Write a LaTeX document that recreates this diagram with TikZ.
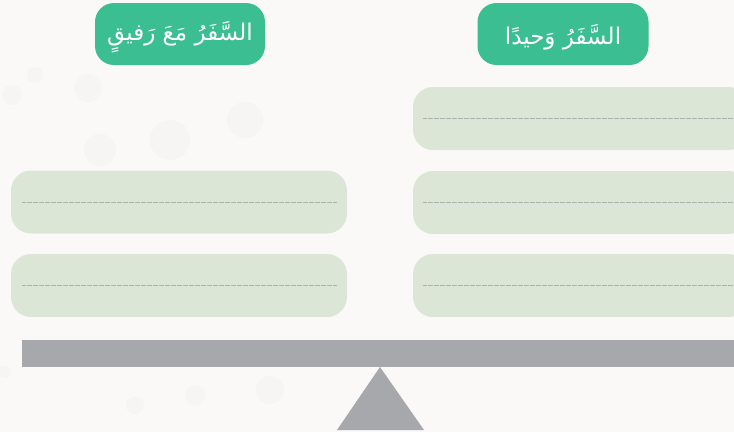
\documentclass[tikz,border=0pt]{standalone}
\usepackage{fontspec}
\newfontfamily\arabicfont[Script=Arabic]{DejaVu Sans}
\TeXXeTstate=1
\definecolor{bgc}{HTML}{FAF9F8}
\definecolor{bgdot}{HTML}{F6F5F3}
\definecolor{titlegreen}{HTML}{3BBE91}
\definecolor{boxgreen}{HTML}{DCE6D6}
\definecolor{dotgray}{HTML}{AEB0AC}
\definecolor{beamgray}{HTML}{A7A8AB}
\tikzset{
  titlebox/.style={fill=titlegreen, rounded corners=19pt, minimum width=170pt, minimum height=62pt, inner sep=0pt, text=white, font=\arabicfont\fontsize{23}{27}\selectfont},
  answerbox/.style={fill=boxgreen, rounded corners=20pt, minimum height=63pt, inner sep=0pt},
  dotline/.style={draw=dotgray, line width=0.6pt, dash pattern=on 0.7pt off 0.5pt},
  beam/.style={fill=beamgray, inner sep=0pt, minimum height=27pt},
  bgcircle/.style={fill=bgdot}
}
\begin{document}
\begin{tikzpicture}[x=1pt,y=-1pt]
\useasboundingbox (0,0) rectangle (734,432);
\fill[bgc] (0,0) rectangle (734,432);
% faint background circles
\fill[bgcircle] (12,95) circle (10);
\fill[bgcircle] (88,88) circle (14);
\fill[bgcircle] (100,150) circle (16);
\fill[bgcircle] (170,140) circle (20);
\fill[bgcircle] (245,120) circle (18);
\fill[bgcircle] (35,75) circle (8);
\fill[bgcircle] (5,372) circle (6);
\fill[bgcircle] (195,395) circle (10);
\fill[bgcircle] (270,390) circle (14);
\fill[bgcircle] (135,405) circle (9);
% titles
\node[titlebox] (t1) at (180,34) {};
\node[titlebox, minimum width=171pt] (t2) at (563,34) {};
\node[text=white, font=\arabicfont\fontsize{23}{27}\selectfont, inner sep=0pt] (t1text) at ([yshift=-3pt]t1.center) {\beginR السَّفَرُ مَعَ رَفيقٍ\endR};
\node[text=white, font=\arabicfont\fontsize{23}{27}\selectfont, inner sep=0pt] (t2text) at ([yshift=-3pt]t2.center) {\beginR السَّفَرُ وَحيدًا\endR};
% right boxes
\node[answerbox, minimum width=335pt] (r1) at (580.5,118.5) {};
\node[answerbox, minimum width=335pt] (r2) at (580.5,202.5) {};
\node[answerbox, minimum width=335pt] (r3) at (580.5,285.5) {};
% left boxes
\node[answerbox, minimum width=336pt] (l1) at (179,202) {};
\node[answerbox, minimum width=336pt] (l2) at (179,285.5) {};
% dotted lines
\foreach \b in {r1,r2,r3} {
  \draw[dotline] ([xshift=10pt]\b.west) -- ([xshift=-10pt]\b.east);
}
\foreach \b in {l1,l2} {
  \draw[dotline] ([xshift=11pt]\b.west) -- ([xshift=-10pt]\b.east);
}
% seesaw
\node[beam, minimum width=730pt] (beam) at (387,353.5) {};
\coordinate (apex) at (380,367);
\fill[beamgray] (337,430) -- (apex) -- (424,430) -- cycle;
\end{tikzpicture}
\end{document}
